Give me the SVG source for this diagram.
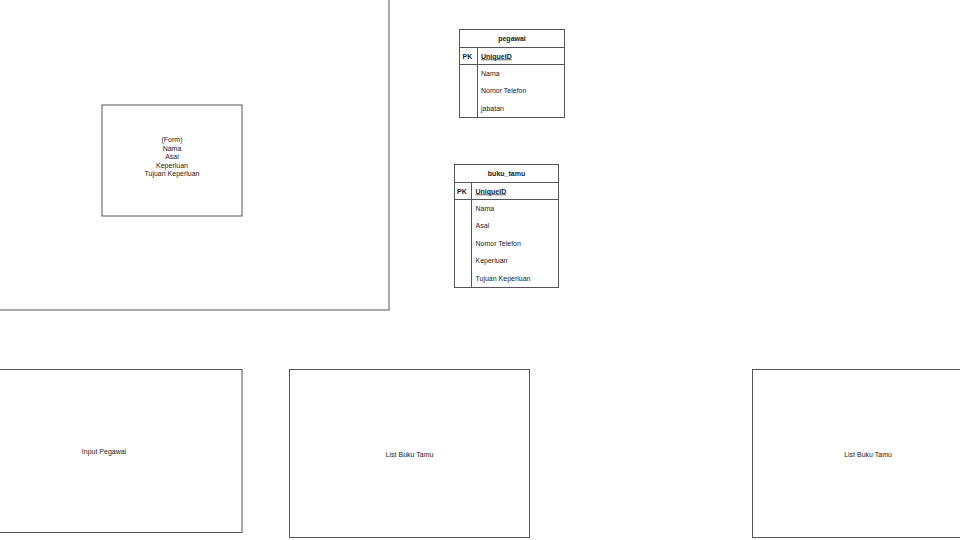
<svg xmlns="http://www.w3.org/2000/svg" width="960" height="540" viewBox="0 0 960 540">
<style>
.b{fill:#fff;stroke:#555;stroke-width:1}
.l{stroke:#555;stroke-width:1;fill:none}
text{font-family:"Liberation Sans",Arial,sans-serif;font-size:7px;fill:#222}
.c{text-anchor:middle}
.h{font-weight:bold}
.u{text-decoration:underline;font-weight:bold}
</style>
<rect width="960" height="540" fill="#fff"/>
<g id="main-frame">
<rect class="b" x="-1" y="-1" width="390" height="311"/>
</g>
<g id="form">
<rect class="b" x="102" y="105" width="140" height="111"/>
<text class="c" x="172" y="142">(Form)</text>
<text class="c" x="172" y="150.5">Nama</text>
<text class="c" x="172" y="159">Asal</text>
<text class="c" x="172" y="167.5">Keperluan</text>
<text class="c" x="172" y="176">Tujuan Keperluan</text>
</g>
<g id="pegawai">
<rect class="b" x="459.5" y="29.5" width="105" height="88"/>
<line class="l" x1="459.5" y1="47.5" x2="564.5" y2="47.5"/>
<line class="l" x1="459.5" y1="64.5" x2="564.5" y2="64.5"/>
<line class="l" x1="477.5" y1="47.5" x2="477.5" y2="117.5"/>
<text class="c h" x="512" y="40.5">pegawai</text>
<text class="h" x="462.5" y="58.5">PK</text>
<text class="u" x="481" y="58.5">UniqueID</text>
<text x="481" y="75.5">Nama</text>
<text x="481" y="93">Nomor Telefon</text>
<text x="481" y="110.5">jabatan</text>
</g>
<g id="buku_tamu">
<rect class="b" x="454.5" y="164.5" width="104" height="123"/>
<line class="l" x1="454.5" y1="182.5" x2="558.5" y2="182.5"/>
<line class="l" x1="454.5" y1="199.5" x2="558.5" y2="199.5"/>
<line class="l" x1="471.5" y1="182.5" x2="471.5" y2="287.5"/>
<text class="c h" x="506.5" y="175.5">buku_tamu</text>
<text class="h" x="457" y="193.5">PK</text>
<text class="u" x="475.5" y="193.5">UniqueID</text>
<text x="475.5" y="210.5">Nama</text>
<text x="475.5" y="228">Asal</text>
<text x="475.5" y="245.5">Nomor Telefon</text>
<text x="475.5" y="263">Keperluan</text>
<text x="475.5" y="280.5">Tujuan Keperluan</text>
</g>
<g id="input-pegawai">
<rect class="b" x="-1" y="369.5" width="243" height="163"/>
<text class="c" x="104" y="453.5">Input Pegawai</text>
</g>
<g id="list-buku-tamu-1">
<rect class="b" x="289.5" y="369.5" width="240" height="168"/>
<text class="c" x="409.5" y="456.5">List Buku Tamu</text>
</g>
<g id="list-buku-tamu-2">
<rect class="b" x="752.5" y="369.5" width="240" height="168"/>
<text class="c" x="868" y="456.5">List Buku Tamu</text>
</g>
<g id="connectors"></g>
</svg>
